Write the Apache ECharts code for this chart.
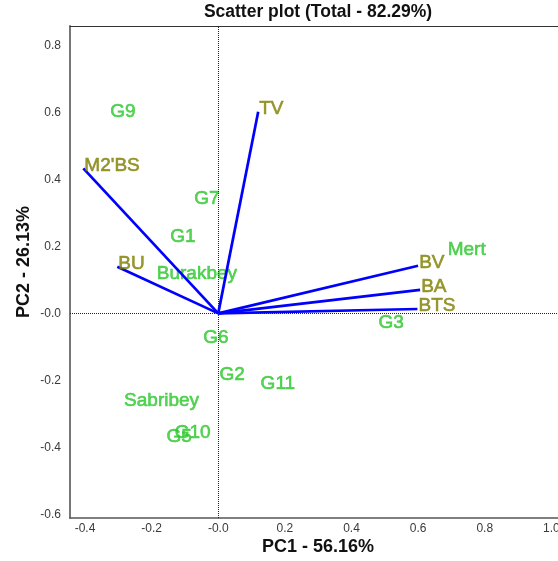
<!DOCTYPE html>
<html>
<head>
<meta charset="utf-8">
<script src="https://cdn.jsdelivr.net/npm/echarts@6/dist/echarts.min.js"></script>
<style>
  html, body { margin: 0; padding: 0; background: #fff; }
  #chart { width: 558px; height: 561px; }
</style>
</head>
<body>
<div id="chart"></div>
<script>
// genotypes (label centres)
const genotypes = ['G9', 'G7', 'G1', 'Burakbey', 'G6', 'G2', 'G11', 'Sabribey', 'G10', 'G5', 'G3', 'Mert'];
const genoPC1 = [-0.286, -0.034, -0.106, -0.064, -0.007, 0.042, 0.179, -0.170, -0.077, -0.117, 0.519, 0.746];
const genoPC2 = [0.601, 0.341, 0.229, 0.117, -0.073, -0.184, -0.209, -0.262, -0.358, -0.368, -0.028, 0.189];

// trait vectors
const traits = ['TV', "M2'BS", 'BU', 'BV', 'BA', 'BTS'];
const traitPC1 = [0.120, -0.405, -0.303, 0.600, 0.606, 0.598];
const traitPC2 = [0.602, 0.433, 0.139, 0.142, 0.070, 0.013];

const xTicks = [-0.4, -0.2, 0, 0.2, 0.4, 0.6, 0.8, 1.0];
const yTicks = [-0.6, -0.4, -0.2, 0, 0.2, 0.4, 0.6, 0.8];

const font = "'Liberation Sans', Arial, sans-serif";
const fmt = v => (Math.abs(v) < 1e-9 ? '-0.0' : v.toFixed(1));

const chart = echarts.init(document.getElementById('chart'));

chart.setOption({
  animation: false,
  backgroundColor: '#fff',
  title: {
    text: 'Scatter plot (Total - 82.29%)',
    left: 318,
    top: 3,
    padding: 0,
    textAlign: 'center',
    textStyle: { fontFamily: font, fontSize: 17.5, fontWeight: 'bold', color: '#111' }
  },
  grid: { left: 70, right: 0, top: 26, bottom: 43, outerBoundsMode: 'none', containLabel: false },
  xAxis: [
    {
      type: 'value',
      min: -0.445,
      max: 1.02,
      name: 'PC1 - 56.16%',
      nameLocation: 'middle',
      nameGap: 20,
      nameMoveOverlap: false,
      nameTextStyle: { fontFamily: font, fontSize: 18, fontWeight: 'bold', color: '#111', padding: [0, 0, 0, 8] },
      axisLine: { show: true, onZero: false, lineStyle: { color: '#555', width: 1.5 } },
      axisTick: { show: false },
      splitLine: { show: false },
      axisLabel: {
        customValues: xTicks,
        formatter: fmt,
        margin: 5,
        fontFamily: font,
        fontSize: 12,
        color: '#3a3a3a'
      }
    },
    {
      type: 'value',
      position: 'top',
      min: -0.445,
      max: 1.02,
      axisLine: { show: true, onZero: false, lineStyle: { color: '#333', width: 1 } },
      axisTick: { show: false },
      axisLabel: { show: false },
      splitLine: { show: false }
    }
  ],
  yAxis: {
    type: 'value',
    min: -0.611,
    max: 0.858,
    name: 'PC2 - 26.13%',
    nameLocation: 'middle',
    nameGap: 37,
    nameMoveOverlap: false,
    nameTextStyle: { fontFamily: font, fontSize: 18, fontWeight: 'bold', color: '#111', padding: [0, 0, 0, 20] },
    axisLine: { show: true, onZero: false, lineStyle: { color: '#777', width: 2 } },
    axisTick: { show: false },
    splitLine: { show: false },
    axisLabel: {
      customValues: yTicks,
      formatter: fmt,
      margin: 9,
      fontFamily: font,
      fontSize: 12,
      color: '#3a3a3a'
    }
  },
  series: [
    {
      // origin reference lines
      type: 'scatter',
      data: [],
      markLine: {
        silent: true,
        symbol: 'none',
        label: { show: false },
        lineStyle: { color: '#222', width: 1, type: 'dotted' },
        data: [{ xAxis: 0 }, { yAxis: 0 }]
      }
    },
    {
      // genotype labels
      type: 'scatter',
      symbolSize: 0.1,
      data: genotypes.map((g, i) => ({ name: g, value: [genoPC1[i], genoPC2[i]] })),
      label: {
        show: true,
        position: 'inside',
        formatter: p => p.name,
        fontFamily: font,
        fontSize: 19,
        color: '#2ec82e',
        textBorderColor: '#2ec82e',
        textBorderWidth: 0.6
      },
      z: 3
    },
    {
      // trait vectors
      type: 'lines',
      coordinateSystem: 'cartesian2d',
      data: traits.map((t, i) => ({ coords: [[0, 0], [traitPC1[i], traitPC2[i]]] })),
      lineStyle: { color: '#0000ff', width: 2.7, opacity: 1 },
      z: 4
    },
    {
      // trait labels
      type: 'scatter',
      symbolSize: 0.1,
      data: traits.map((t, i) => ({ name: t, value: [traitPC1[i], traitPC2[i]] })),
      label: {
        show: true,
        position: 'right',
        distance: 1,
        offset: [0, -3],
        formatter: p => p.name,
        fontFamily: font,
        fontSize: 19,
        color: '#7f7f00',
        textBorderColor: '#7f7f00',
        textBorderWidth: 0.6
      },
      z: 5
    }
  ]
});
</script>
</body>
</html>
